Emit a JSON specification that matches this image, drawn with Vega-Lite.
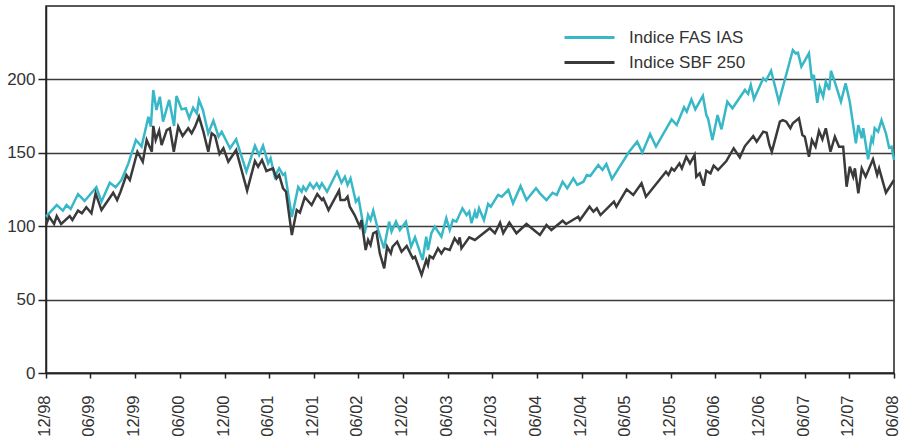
{
  "$schema": "https://vega.github.io/schema/vega-lite/v6.json",
  "width": 848,
  "height": 367,
  "autosize": {"type": "none"},
  "padding": {"left": 46, "top": 6, "right": 6, "bottom": 75},
  "background": "white",
  "config": {"view": {"stroke": "#222222", "strokeWidth": 1.5}, "font": "Liberation Sans"},
  "datasets": {
    "fas": [
      {"date":"1998-12-01","value":106.5},{"date":"1999-01-14","value":114.4},{"date":"1999-02-08","value":110.6},{"date":"1999-02-23","value":114.4},{"date":"1999-03-12","value":111.7},{"date":"1999-04-11","value":121.9},{"date":"1999-05-08","value":117.2},{"date":"1999-06-25","value":126.5},{"date":"1999-07-16","value":116.7},{"date":"1999-08-19","value":129.6},{"date":"1999-09-12","value":126.5},{"date":"1999-10-06","value":131.5},{"date":"1999-11-03","value":142.8},{"date":"1999-12-04","value":158.7},{"date":"1999-12-27","value":154.2},{"date":"2000-01-24","value":174.6},{"date":"2000-02-03","value":167.8},{"date":"2000-02-13","value":192.8},{"date":"2000-02-26","value":179.2},{"date":"2000-03-11","value":188.2},{"date":"2000-03-24","value":171.2},{"date":"2000-04-18","value":186.0},{"date":"2000-05-08","value":168.3},{"date":"2000-05-18","value":188.7},{"date":"2000-06-08","value":179.6},{"date":"2000-06-25","value":180.3},{"date":"2000-07-09","value":173.5},{"date":"2000-07-25","value":180.7},{"date":"2000-08-09","value":176.9},{"date":"2000-08-18","value":186.0},{"date":"2000-09-03","value":179.2},{"date":"2000-09-25","value":163.3},{"date":"2000-10-16","value":171.9},{"date":"2000-11-06","value":161.0},{"date":"2000-11-19","value":164.4},{"date":"2000-12-23","value":153.1},{"date":"2001-01-17","value":159.2},{"date":"2001-02-28","value":137.1},{"date":"2001-04-04","value":154.8},{"date":"2001-04-21","value":148.5},{"date":"2001-05-07","value":154.8},{"date":"2001-05-28","value":142.8},{"date":"2001-06-07","value":146.3},{"date":"2001-06-24","value":133.7},{"date":"2001-07-12","value":139.4},{"date":"2001-07-28","value":134.9},{"date":"2001-08-05","value":136.0},{"date":"2001-09-02","value":106.3},{"date":"2001-09-28","value":126.7},{"date":"2001-10-12","value":123.5},{"date":"2001-10-19","value":126.9},{"date":"2001-10-30","value":124.2},{"date":"2001-11-15","value":129.2},{"date":"2001-11-29","value":125.8},{"date":"2001-12-13","value":129.2},{"date":"2001-12-24","value":125.8},{"date":"2002-01-03","value":129.2},{"date":"2002-01-24","value":123.5},{"date":"2002-03-06","value":137.1},{"date":"2002-03-24","value":129.6},{"date":"2002-04-07","value":133.7},{"date":"2002-04-18","value":128.1},{"date":"2002-04-30","value":132.6},{"date":"2002-05-22","value":116.7},{"date":"2002-06-02","value":119.0},{"date":"2002-06-27","value":95.2},{"date":"2002-07-11","value":107.6},{"date":"2002-07-21","value":104.2},{"date":"2002-08-01","value":110.6},{"date":"2002-08-21","value":97.4},{"date":"2002-09-14","value":84.9},{"date":"2002-10-05","value":103.1},{"date":"2002-10-15","value":96.3},{"date":"2002-11-02","value":103.1},{"date":"2002-11-18","value":97.4},{"date":"2002-12-13","value":103.1},{"date":"2003-01-03","value":86.0},{"date":"2003-01-19","value":92.4},{"date":"2003-02-19","value":77.0},{"date":"2003-03-06","value":92.8},{"date":"2003-03-13","value":83.8},{"date":"2003-03-27","value":95.2},{"date":"2003-04-10","value":99.7},{"date":"2003-05-07","value":92.8},{"date":"2003-05-27","value":105.4},{"date":"2003-06-10","value":97.4},{"date":"2003-06-23","value":104.2},{"date":"2003-07-07","value":103.1},{"date":"2003-08-01","value":112.2},{"date":"2003-08-18","value":107.6},{"date":"2003-08-29","value":109.9},{"date":"2003-09-07","value":102.0},{"date":"2003-09-21","value":109.9},{"date":"2003-09-28","value":105.4},{"date":"2003-10-08","value":112.2},{"date":"2003-10-28","value":104.2},{"date":"2003-11-14","value":115.1},{"date":"2003-11-25","value":113.3},{"date":"2003-12-25","value":121.3},{"date":"2004-01-09","value":120.1},{"date":"2004-02-05","value":124.7},{"date":"2004-02-24","value":115.6},{"date":"2004-03-26","value":127.4},{"date":"2004-04-19","value":117.8},{"date":"2004-05-28","value":125.8},{"date":"2004-06-13","value":122.4},{"date":"2004-07-10","value":117.8},{"date":"2004-08-04","value":122.8},{"date":"2004-08-21","value":121.3},{"date":"2004-09-14","value":130.3},{"date":"2004-10-03","value":125.8},{"date":"2004-10-28","value":132.6},{"date":"2004-11-13","value":128.1},{"date":"2004-12-08","value":130.3},{"date":"2004-12-22","value":134.9},{"date":"2005-01-05","value":134.2},{"date":"2005-02-07","value":141.7},{"date":"2005-02-24","value":138.3},{"date":"2005-03-12","value":142.4},{"date":"2005-04-04","value":132.2},{"date":"2005-06-13","value":150.7},{"date":"2005-07-16","value":157.6},{"date":"2005-08-06","value":150.1},{"date":"2005-09-07","value":162.8},{"date":"2005-10-01","value":154.2},{"date":"2005-12-04","value":172.8},{"date":"2005-12-25","value":168.9},{"date":"2006-01-24","value":181.0},{"date":"2006-02-04","value":178.0},{"date":"2006-02-23","value":186.4},{"date":"2006-03-11","value":179.6},{"date":"2006-04-11","value":188.7},{"date":"2006-04-25","value":175.7},{"date":"2006-05-02","value":173.5},{"date":"2006-05-20","value":158.7},{"date":"2006-06-10","value":175.7},{"date":"2006-06-26","value":166.0},{"date":"2006-07-20","value":184.8},{"date":"2006-08-10","value":180.3},{"date":"2006-09-30","value":192.8},{"date":"2006-10-13","value":190.1},{"date":"2006-10-24","value":196.2},{"date":"2006-11-06","value":186.6},{"date":"2006-12-14","value":200.7},{"date":"2006-12-25","value":199.1},{"date":"2007-01-15","value":205.9},{"date":"2007-02-16","value":184.8},{"date":"2007-04-14","value":220.0},{"date":"2007-04-25","value":217.8},{"date":"2007-05-05","value":218.2},{"date":"2007-05-19","value":208.7},{"date":"2007-06-19","value":217.8},{"date":"2007-07-01","value":199.6},{"date":"2007-07-09","value":203.0},{"date":"2007-07-23","value":184.1},{"date":"2007-08-02","value":194.6},{"date":"2007-08-16","value":188.2},{"date":"2007-08-27","value":198.4},{"date":"2007-09-10","value":192.8},{"date":"2007-09-17","value":205.9},{"date":"2007-09-30","value":199.6},{"date":"2007-10-28","value":184.8},{"date":"2007-11-16","value":197.3},{"date":"2007-12-03","value":184.8},{"date":"2007-12-28","value":156.5},{"date":"2008-01-07","value":168.9},{"date":"2008-01-21","value":159.9},{"date":"2008-01-27","value":166.7},{"date":"2008-02-16","value":145.6},{"date":"2008-03-01","value":159.9},{"date":"2008-03-07","value":157.6},{"date":"2008-03-14","value":166.7},{"date":"2008-03-28","value":164.4},{"date":"2008-04-11","value":172.3},{"date":"2008-04-29","value":163.3},{"date":"2008-05-12","value":153.5},{"date":"2008-05-22","value":154.2},{"date":"2008-06-01","value":145.1}
    ],
    "sbf": [
      {"date":"1998-12-01","value":100.8},{"date":"1998-12-14","value":106.5},{"date":"1999-01-03","value":101.5},{"date":"1999-01-14","value":106.9},{"date":"1999-02-01","value":101.5},{"date":"1999-03-08","value":106.9},{"date":"1999-03-19","value":104.2},{"date":"1999-04-11","value":110.6},{"date":"1999-04-27","value":108.8},{"date":"1999-05-15","value":112.9},{"date":"1999-06-05","value":108.8},{"date":"1999-06-22","value":122.4},{"date":"1999-07-16","value":111.0},{"date":"1999-09-02","value":122.8},{"date":"1999-09-18","value":117.8},{"date":"1999-10-02","value":123.5},{"date":"1999-10-26","value":134.9},{"date":"1999-11-09","value":131.5},{"date":"1999-12-10","value":150.7},{"date":"2000-01-01","value":143.9},{"date":"2000-01-17","value":158.7},{"date":"2000-02-07","value":150.7},{"date":"2000-02-13","value":168.3},{"date":"2000-02-23","value":158.7},{"date":"2000-03-08","value":165.1},{"date":"2000-03-18","value":155.3},{"date":"2000-04-08","value":165.5},{"date":"2000-04-21","value":166.7},{"date":"2000-05-07","value":150.7},{"date":"2000-05-25","value":167.8},{"date":"2000-06-12","value":161.4},{"date":"2000-07-05","value":166.7},{"date":"2000-07-19","value":163.3},{"date":"2000-08-02","value":167.8},{"date":"2000-08-18","value":174.6},{"date":"2000-09-05","value":164.4},{"date":"2000-09-25","value":150.7},{"date":"2000-10-09","value":163.3},{"date":"2000-10-23","value":161.4},{"date":"2000-11-10","value":149.2},{"date":"2000-11-26","value":153.1},{"date":"2000-12-16","value":143.9},{"date":"2001-01-17","value":151.9},{"date":"2001-03-03","value":124.2},{"date":"2001-04-04","value":144.4},{"date":"2001-04-17","value":140.5},{"date":"2001-05-03","value":145.1},{"date":"2001-05-21","value":137.6},{"date":"2001-06-17","value":139.4},{"date":"2001-07-01","value":132.6},{"date":"2001-07-12","value":134.9},{"date":"2001-07-28","value":125.8},{"date":"2001-08-09","value":123.5},{"date":"2001-09-02","value":94.0},{"date":"2001-09-22","value":111.0},{"date":"2001-10-05","value":109.2},{"date":"2001-10-25","value":119.7},{"date":"2001-11-22","value":114.4},{"date":"2001-12-15","value":121.9},{"date":"2002-01-03","value":117.8},{"date":"2002-01-09","value":119.0},{"date":"2002-01-30","value":111.0},{"date":"2002-03-14","value":124.2},{"date":"2002-03-20","value":117.8},{"date":"2002-04-07","value":117.8},{"date":"2002-04-18","value":120.1},{"date":"2002-04-27","value":113.3},{"date":"2002-05-17","value":107.6},{"date":"2002-06-07","value":99.7},{"date":"2002-06-14","value":104.2},{"date":"2002-07-01","value":83.8},{"date":"2002-07-11","value":90.6},{"date":"2002-07-21","value":87.2},{"date":"2002-08-01","value":95.2},{"date":"2002-08-14","value":96.3},{"date":"2002-08-28","value":81.5},{"date":"2002-09-15","value":71.3},{"date":"2002-09-27","value":86.0},{"date":"2002-10-12","value":81.5},{"date":"2002-10-19","value":86.0},{"date":"2002-11-07","value":89.4},{"date":"2002-11-25","value":82.6},{"date":"2002-12-16","value":86.5},{"date":"2003-01-10","value":78.1},{"date":"2003-01-19","value":79.2},{"date":"2003-02-15","value":66.8},{"date":"2003-03-06","value":77.0},{"date":"2003-03-13","value":73.6},{"date":"2003-03-20","value":79.7},{"date":"2003-04-03","value":78.1},{"date":"2003-04-23","value":84.9},{"date":"2003-05-07","value":81.5},{"date":"2003-05-20","value":84.9},{"date":"2003-06-10","value":83.8},{"date":"2003-06-30","value":91.8},{"date":"2003-07-14","value":88.4},{"date":"2003-07-21","value":92.4},{"date":"2003-07-28","value":84.9},{"date":"2003-08-29","value":92.4},{"date":"2003-09-21","value":90.6},{"date":"2003-11-21","value":98.6},{"date":"2003-12-12","value":95.2},{"date":"2004-01-02","value":102.4},{"date":"2004-01-15","value":95.2},{"date":"2004-02-09","value":102.4},{"date":"2004-03-09","value":95.2},{"date":"2004-04-19","value":101.5},{"date":"2004-06-13","value":94.0},{"date":"2004-07-10","value":100.8},{"date":"2004-07-30","value":97.4},{"date":"2004-09-14","value":103.7},{"date":"2004-09-28","value":101.5},{"date":"2004-11-17","value":106.5},{"date":"2004-11-24","value":104.2},{"date":"2005-01-02","value":113.3},{"date":"2005-01-18","value":109.9},{"date":"2005-02-01","value":112.2},{"date":"2005-02-16","value":107.6},{"date":"2005-04-12","value":116.7},{"date":"2005-04-22","value":113.3},{"date":"2005-06-03","value":125.1},{"date":"2005-06-30","value":121.3},{"date":"2005-08-03","value":129.2},{"date":"2005-08-21","value":120.1},{"date":"2005-11-11","value":137.1},{"date":"2005-11-21","value":134.9},{"date":"2005-12-04","value":139.4},{"date":"2005-12-15","value":137.8},{"date":"2006-01-05","value":142.8},{"date":"2006-01-15","value":139.4},{"date":"2006-02-02","value":147.3},{"date":"2006-02-17","value":142.8},{"date":"2006-03-08","value":148.5},{"date":"2006-03-15","value":133.7},{"date":"2006-03-29","value":136.0},{"date":"2006-04-14","value":127.6},{"date":"2006-04-25","value":137.8},{"date":"2006-05-12","value":136.0},{"date":"2006-05-25","value":141.2},{"date":"2006-06-12","value":138.3},{"date":"2006-07-16","value":144.4},{"date":"2006-08-15","value":153.1},{"date":"2006-09-09","value":146.9},{"date":"2006-09-30","value":154.6},{"date":"2006-11-03","value":161.4},{"date":"2006-11-17","value":157.6},{"date":"2006-12-14","value":164.4},{"date":"2006-12-28","value":163.7},{"date":"2007-01-08","value":155.3},{"date":"2007-01-18","value":150.7},{"date":"2007-02-20","value":171.2},{"date":"2007-03-04","value":172.3},{"date":"2007-03-18","value":171.2},{"date":"2007-04-04","value":166.7},{"date":"2007-04-14","value":170.1},{"date":"2007-05-09","value":173.5},{"date":"2007-05-23","value":162.1},{"date":"2007-06-02","value":161.0},{"date":"2007-06-19","value":147.3},{"date":"2007-07-01","value":158.7},{"date":"2007-07-16","value":154.2},{"date":"2007-07-30","value":164.9},{"date":"2007-08-13","value":159.2},{"date":"2007-08-27","value":166.7},{"date":"2007-09-15","value":150.7},{"date":"2007-10-03","value":161.0},{"date":"2007-10-20","value":154.2},{"date":"2007-11-06","value":154.2},{"date":"2007-11-20","value":126.9},{"date":"2007-12-03","value":140.5},{"date":"2007-12-17","value":133.7},{"date":"2007-12-24","value":139.4},{"date":"2008-01-07","value":122.4},{"date":"2008-01-21","value":139.4},{"date":"2008-02-06","value":133.7},{"date":"2008-03-07","value":145.6},{"date":"2008-03-24","value":134.9},{"date":"2008-04-01","value":139.4},{"date":"2008-04-29","value":122.8},{"date":"2008-06-01","value":131.5}
    ]
  },
  "encoding": {
    "x": {
      "field": "date", "type": "temporal",
      "scale": {"type": "utc", "domain": [{"year": 1998, "month": 12, "date": 1, "utc": true}, {"year": 2008, "month": 6, "date": 1, "utc": true}]},
      "axis": {
        "title": null, "grid": false, "format": "%m/%y",
        "values": [
          {"year": 1998, "month": 12, "date": 1, "utc": true},{"year": 1999, "month": 6, "date": 1, "utc": true},{"year": 1999, "month": 12, "date": 1, "utc": true},{"year": 2000, "month": 6, "date": 1, "utc": true},{"year": 2000, "month": 12, "date": 1, "utc": true},{"year": 2001, "month": 6, "date": 1, "utc": true},{"year": 2001, "month": 12, "date": 1, "utc": true},{"year": 2002, "month": 6, "date": 1, "utc": true},{"year": 2002, "month": 12, "date": 1, "utc": true},{"year": 2003, "month": 6, "date": 1, "utc": true},{"year": 2003, "month": 12, "date": 1, "utc": true},{"year": 2004, "month": 6, "date": 1, "utc": true},{"year": 2004, "month": 12, "date": 1, "utc": true},{"year": 2005, "month": 6, "date": 1, "utc": true},{"year": 2005, "month": 12, "date": 1, "utc": true},{"year": 2006, "month": 6, "date": 1, "utc": true},{"year": 2006, "month": 12, "date": 1, "utc": true},{"year": 2007, "month": 6, "date": 1, "utc": true},{"year": 2007, "month": 12, "date": 1, "utc": true},{"year": 2008, "month": 6, "date": 1, "utc": true}
        ],
        "labelAngle": 270, "labelAlign": "right", "labelBaseline": "middle",
        "labelPadding": 17, "labelOffset": -1.5, "labelFontSize": 16.5, "labelColor": "#333333", "labelFont": "Liberation Sans",
        "labelOverlap": false, "labelFlush": false, "labelBound": false,
        "tickSize": 5, "tickWidth": 1.5, "tickColor": "#222222",
        "domainColor": "#222222", "domainWidth": 1.5
      }
    },
    "y": {
      "field": "value", "type": "quantitative",
      "scale": {"domain": [0, 250], "nice": false, "zero": true},
      "axis": {
        "title": null, "values": [0, 50, 100, 150, 200], "grid": true,
        "gridColor": "#3a3a3a", "gridWidth": 1.5,
        "tickSize": 8, "tickWidth": 1.5, "tickColor": "#222222",
        "domainColor": "#222222", "domainWidth": 1.5,
        "labelPadding": 3, "labelFontSize": 17, "labelColor": "#333333", "labelFont": "Liberation Sans"
      }
    }
  },
  "layer": [
    {
      "data": {"name": "fas"},
      "mark": {"type": "line", "strokeWidth": 2.5},
      "encoding": {
        "color": {
          "datum": "Indice FAS IAS", "type": "nominal",
          "scale": {"domain": ["Indice FAS IAS", "Indice SBF 250"], "range": ["#38b8c6", "#3a3a3c"]},
          "legend": {
            "title": null, "orient": "none", "legendX": 517, "legendY": 20,
            "symbolType": "M-1,0H4", "symbolSize": 400, "symbolStrokeWidth": 3,
            "labelFontSize": 17, "labelColor": "#333333", "labelFont": "Liberation Sans",
            "labelOffset": 43, "rowPadding": 5
          }
        }
      }
    },
    {
      "data": {"name": "sbf"},
      "mark": {"type": "line", "strokeWidth": 2.5},
      "encoding": {
        "color": {"datum": "Indice SBF 250", "type": "nominal"}
      }
    }
  ]
}
